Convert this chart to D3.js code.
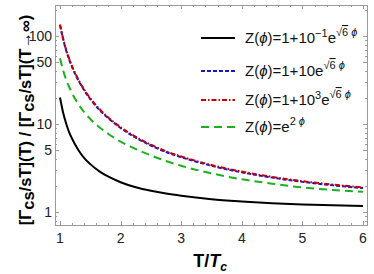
<!DOCTYPE html>
<html>
<head>
<meta charset="utf-8">
<script src="https://cdn.jsdelivr.net/npm/d3@7"></script>
<style>
body{margin:0;background:#fff;}
text{font-family:"Liberation Sans",Arial,sans-serif;}
</style>
</head>
<body>
<div id="chart"></div>
<script>
// T/Tc sample points
const temps = [1, 1.05, 1.1, 1.15, 1.2, 1.3, 1.4, 1.5, 1.65, 1.8, 2, 2.25, 2.5, 2.75, 3, 3.5, 4, 4.5, 5, 5.5, 6];
// Z = 1 + 10^-1 e^{sqrt6 phi}  (black)
const zTenth = [20, 13.6, 10.2, 8.1, 6.8, 5.1, 4.1, 3.5, 2.9, 2.52, 2.18, 1.91, 1.74, 1.62, 1.53, 1.4, 1.32, 1.26, 1.22, 1.19, 1.17];
// Z = 1 + 10 e^{sqrt6 phi}  (blue)
const zTen = [133, 93, 69, 54.5, 44.4, 31.6, 24.1, 19.2, 14.5, 11.6, 9.0, 7.0, 5.7, 4.8, 4.2, 3.35, 2.82, 2.46, 2.2, 2.01, 1.87];
// Z = 1 + 10^3 e^{sqrt6 phi}  (red)
const zThousand = [135, 95, 70.5, 55.5, 45.3, 32.3, 24.6, 19.6, 14.8, 11.8, 9.2, 7.15, 5.82, 4.9, 4.28, 3.42, 2.88, 2.51, 2.24, 2.05, 1.9];
// Z = e^{2 phi}  (green)
const zExp = [56, 41, 32, 26.5, 22.3, 17, 13.6, 11.4, 9.2, 7.7, 6.3, 5.2, 4.4, 3.8, 3.35, 2.75, 2.35, 2.1, 1.9, 1.78, 1.7];

const xMajor = [1, 2, 3, 4, 5, 6];
const xMinor = d3.range(1, 6.01, 0.2).filter(v => Math.abs(v - Math.round(v)) > 0.01);
const yMajor = [1, 5, 10, 50, 100];
const yMinor = [0.8, 0.9, 2, 3, 4, 6, 7, 8, 9, 20, 30, 40, 60, 70, 80, 90, 200];

const width = 374, height = 274;
const frameL = 55, frameR = 367, frameT = 5, frameB = 225;

let svg = d3.select("#chart").append("svg")
    .attr("width", width)
    .attr("height", height);

let x = d3.scaleLinear().domain([1, 6]).range([60, 363]);
let y = d3.scaleLog().domain([1, 100]).range([212, 36]);

const frameColor = "#9a9a9a";

// frame
svg.append("rect")
    .attr("x", frameL + 0.5).attr("y", frameT + 0.5)
    .attr("width", frameR - frameL).attr("height", frameB - frameT)
    .attr("fill", "none").attr("stroke", frameColor).attr("stroke-width", 1);

function ticks(vals, len, axis){
    let g = svg.append("g").attr("stroke", frameColor).attr("stroke-width", 1);
    vals.forEach(v => {
        if(axis == "x"){
            let px = Math.round(x(v)) + 0.5;
            g.append("line").attr("x1", px).attr("x2", px).attr("y1", frameB).attr("y2", frameB - len);
            g.append("line").attr("x1", px).attr("x2", px).attr("y1", frameT).attr("y2", frameT + len);
        } else {
            let py = Math.round(y(v)) + 0.5;
            g.append("line").attr("y1", py).attr("y2", py).attr("x1", frameL).attr("x2", frameL + len);
            g.append("line").attr("y1", py).attr("y2", py).attr("x1", frameR).attr("x2", frameR - len);
        }
    });
}
ticks(xMajor, 4, "x");
ticks(xMinor, 2, "x");
ticks(yMajor, 4, "y");
ticks(yMinor, 2, "y");

svg.append("g").selectAll("text").data(xMajor).join("text")
    .attr("x", d => x(d)).attr("y", 243)
    .attr("text-anchor", "middle")
    .attr("font-size", 14).attr("fill", "#222")
    .text(d => d);

svg.append("g").selectAll("text").data(yMajor).join("text")
    .attr("x", 52).attr("y", d => y(d) + 5)
    .attr("text-anchor", "end")
    .attr("font-size", 14).attr("fill", "#222")
    .text(d => d);

// curves
let line = d3.line()
    .x((d, i) => x(temps[i]))
    .y(d => y(d))
    .curve(d3.curveMonotoneX);

const series = [
    {vals: zTenth, color: "#000000", dash: null},
    {vals: zExp, color: "#1cb01c", dash: "8,5"},
    {vals: zTen, color: "#1515cc", dash: "4,2"},
    {vals: zThousand, color: "#c40000", dash: "5,2,1.5,2"}
];

let plot = svg.append("g");
series.forEach(s => {
    plot.append("path")
        .attr("d", line(s.vals))
        .attr("fill", "none")
        .attr("stroke", s.color)
        .attr("stroke-width", 2)
        .attr("stroke-dasharray", s.dash);
});

// legend
const legendRows = [
    {y: 38, color: "#000000", dash: null, base: "1+10", sup1: "\u22121", tail: true},
    {y: 71, color: "#1515cc", dash: "4,2", base: "1+10", sup1: null, tail: true},
    {y: 100, color: "#c40000", dash: "5,2,1.5,2", base: "1+10", sup1: "3", tail: true},
    {y: 127, color: "#1cb01c", dash: "8,5", base: null, sup1: null, tail: false}
];

let lg = svg.append("g");
legendRows.forEach(r => {
    lg.append("line")
        .attr("x1", 201).attr("x2", 235)
        .attr("y1", r.y).attr("y2", r.y)
        .attr("stroke", r.color).attr("stroke-width", 2)
        .attr("stroke-dasharray", r.dash);
    let t = lg.append("text")
        .attr("x", 245).attr("y", r.y + 5)
        .attr("font-size", 15).attr("fill", "#111");
    t.append("tspan").text("Z(");
    t.append("tspan").attr("font-style", "italic").text("\u03d5");
    t.append("tspan").text(")=");
    if(r.tail){
        t.append("tspan").text(r.base);
        if(r.sup1){
            t.append("tspan").attr("dy", -6).attr("font-size", 11).text(r.sup1);
            t.append("tspan").attr("dy", 6).text("e");
        } else {
            t.append("tspan").text("e");
        }
        t.append("tspan").attr("dy", -7).attr("font-size", 11).text("\u221a");
        t.append("tspan").attr("font-size", 11).attr("text-decoration", "overline").text("6");
        t.append("tspan").attr("font-size", 11).attr("font-style", "italic").text(" \u03d5");
    } else {
        t.append("tspan").text("e");
        t.append("tspan").attr("dy", -7).attr("font-size", 11).text("2 ");
        t.append("tspan").attr("font-size", 11).attr("font-style", "italic").text("\u03d5");
    }
});

// axis titles
let xl = svg.append("text")
    .attr("x", 210).attr("y", 267)
    .attr("text-anchor", "middle")
    .attr("font-size", 18).attr("font-weight", "bold");
xl.append("tspan").text("T/");
xl.append("tspan").attr("font-style", "italic").text("T");
xl.append("tspan").attr("font-style", "italic").attr("font-size", 12).attr("dy", 4).text("c");

let yl = svg.append("text")
    .attr("transform", "translate(31,120) rotate(-90)")
    .attr("text-anchor", "middle")
    .attr("font-size", 16.5).attr("font-weight", "bold");
function gammaPart(sel, tail){
    sel.append("tspan").text("[\u0393");
    sel.append("tspan").attr("dy", 3).text("cs");
    sel.append("tspan").attr("dy", -3).text("/sT](" + tail + ")");
}
gammaPart(yl, "T");
yl.append("tspan").text(" / ");
gammaPart(yl, "T\u2192\u221e");
</script>
</body>
</html>
